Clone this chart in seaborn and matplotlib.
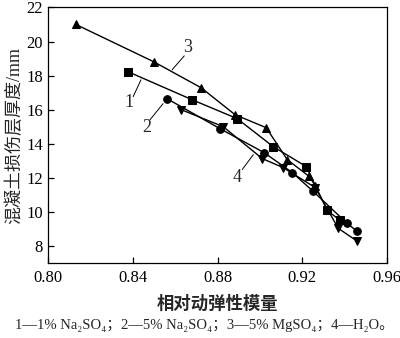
import matplotlib
matplotlib.use("Agg")
import matplotlib.pyplot as plt
import seaborn as sns
import pandas as pd

# Data
s1_x = [0.8378, 0.8680, 0.8893, 0.9063, 0.9219, 0.9318, 0.9379]
s1_y = [18.23, 16.59, 15.48, 13.84, 12.67, 10.10, 9.51]
s2_x = [0.8562, 0.8812, 0.9020, 0.9153, 0.9252, 0.9412, 0.9460]
s2_y = [16.65, 14.89, 13.49, 12.32, 11.21, 9.34, 8.87]
s3_x = [0.8132, 0.8500, 0.8723, 0.8883, 0.9030, 0.9129, 0.9233, 0.9261]
s3_y = [21.00, 18.81, 17.29, 15.71, 14.95, 13.08, 12.09, 11.56]
s4_x = [0.8628, 0.8827, 0.9011, 0.9110, 0.9261, 0.9370, 0.9460]
s4_y = [16.01, 15.01, 13.14, 12.61, 11.44, 9.05, 8.29]
series_ids = ["1", "2", "3", "4"]
markers = {"1": "s", "2": "o", "3": "^", "4": "v"}

x_ticks = [0.80, 0.84, 0.88, 0.92, 0.96]
x_ticklabels = ["0.80", "0.84", "0.88", "0.92", "0.96"]
y_ticks = [8, 10, 12, 14, 16, 18, 20, 22]

sns.set_theme(style="ticks")
plt.rcParams['font.family'] = ['Liberation Serif', 'DejaVu Serif', 'Noto Sans CJK SC']

fig = plt.figure(figsize=(4.0, 3.38), dpi=100)
ax = fig.add_axes([0.12, 0.221, 0.8475, 0.757])

data = {"1": (s1_x, s1_y), "2": (s2_x, s2_y), "3": (s3_x, s3_y), "4": (s4_x, s4_y)}
for sid in series_ids:
    xs, ys = data[sid]
    df = pd.DataFrame({"x": xs, "y": ys})
    sns.lineplot(data=df, x="x", y="y", ax=ax, color="black", linewidth=1.0,
                 marker=markers[sid], markersize=5.5, markeredgecolor="black",
                 markerfacecolor="black", sort=False, estimator=None)

ax.set_xlim(0.80, 0.96)
ax.set_ylim(7.0, 22)
ax.set_xticks(x_ticks)
ax.set_xticklabels(x_ticklabels)
ax.set_yticks(y_ticks)
ax.tick_params(direction="in", length=4, width=0.9, labelsize=12, colors="black")
ax.tick_params(axis="x", pad=5)
for sp in ax.spines.values():
    sp.set_linewidth(0.9)
    sp.set_color("black")

ax.set_xlabel("相对动弹性模量", fontsize=12.5, fontweight="bold",
              family=['Noto Sans CJK SC'], labelpad=6)
ax.set_ylabel("混凝土损伤层厚度/mm", fontsize=13,
              family=['Liberation Serif', 'Noto Sans CJK SC'], labelpad=2)

# Series labels with leader lines
labels = [("1", (0.8383, 16.42), (0.8402, 16.77), (0.8439, 17.76)),
          ("3", (0.8657, 19.63), (0.8643, 19.16), (0.8586, 18.35)),
          ("2", (0.8468, 14.95), (0.8482, 15.42), (0.8543, 16.36)),
          ("4", (0.8893, 12.03), (0.8917, 12.50), (0.8969, 13.37))]
for txt, tpos, lstart, lend in labels:
    ax.text(tpos[0], tpos[1], txt, fontsize=13, ha="center", va="center",
            family=['Liberation Serif'])
    ax.plot([lstart[0], lend[0]], [lstart[1], lend[1]], color="black", linewidth=0.7)

fig.text(0.51, 0.038,
         "1—1% Na₂SO₄；2—5% Na₂SO₄；3—5% MgSO₄；4—H₂O。",
         ha="center", va="center", fontsize=10.5,
         family=['Liberation Serif', 'DejaVu Serif', 'Noto Sans CJK SC'])

fig.savefig("out.png", dpi=100)
